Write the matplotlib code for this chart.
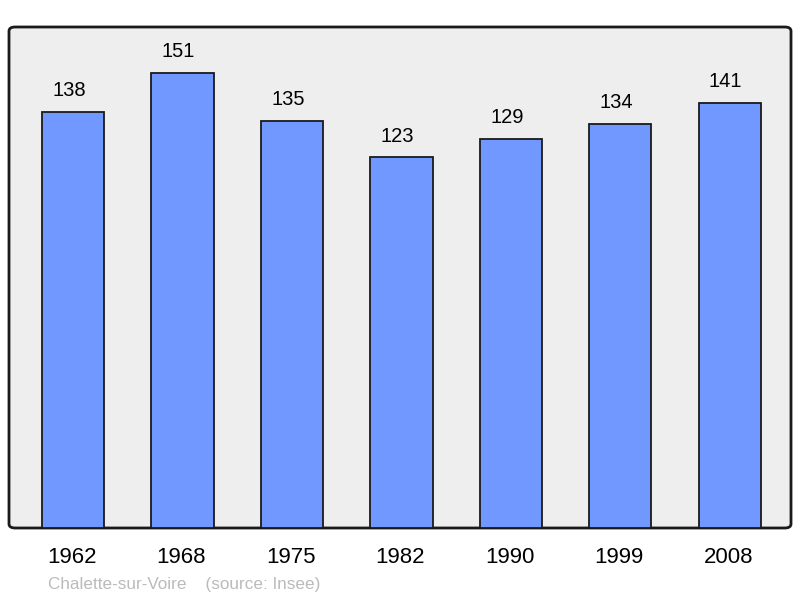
import matplotlib.pyplot as plt
from matplotlib.patches import FancyBboxPatch

years = ["1962", "1968", "1975", "1982", "1990", "1999", "2008"]
population = [138, 151, 135, 123, 129, 134, 141]
commune = "Chalette-sur-Voire"
source = "(source: Insee)"

plt.rcParams["font.family"] = ["Liberation Sans", "DejaVu Sans"]

fig = plt.figure(figsize=(8, 5.98), dpi=100)
# plot area approx x 9..791, y 27..528 px
ax = fig.add_axes([9 / 800, 1 - 528 / 598, 782 / 800, 501 / 598])
ax.set_facecolor("none")

# rounded grey frame behind the bars
frame = FancyBboxPatch((0, 0), 1, 1, boxstyle="round,pad=0,rounding_size=0.008",
                       transform=ax.transAxes, facecolor="#eeeeee",
                       edgecolor="#1a1a1a", linewidth=2, clip_on=False, zorder=0)
ax.add_patch(frame)

x = list(range(len(years)))
ax.bar(x, population, width=0.57, color="#7098ff", edgecolor="#1a1a1a",
       linewidth=1.3, zorder=2)

# value labels sit a little left of the bar centre, like the original
for xi, v in zip(x, population):
    ax.text(xi - 0.037, v + 7.1, str(v), ha="center", va="center",
            fontsize=14.5, zorder=3)

ax.set_xlim(-0.585, 6.56)
ax.set_ylim(0, 166.3)
for s in ax.spines.values():
    s.set_visible(False)
ax.set_yticks([])
ax.set_xticks([xi - 0.01 for xi in x])
ax.set_xticklabels(years, fontsize=16)
ax.tick_params(axis="x", length=0, pad=14)

fig.text(48 / 800, 1 - 584 / 598, commune + "    " + source, fontsize=12.3,
         color="#bbbbbb", va="center", ha="left")

plt.savefig("out.png", dpi=100)
plt.close()
